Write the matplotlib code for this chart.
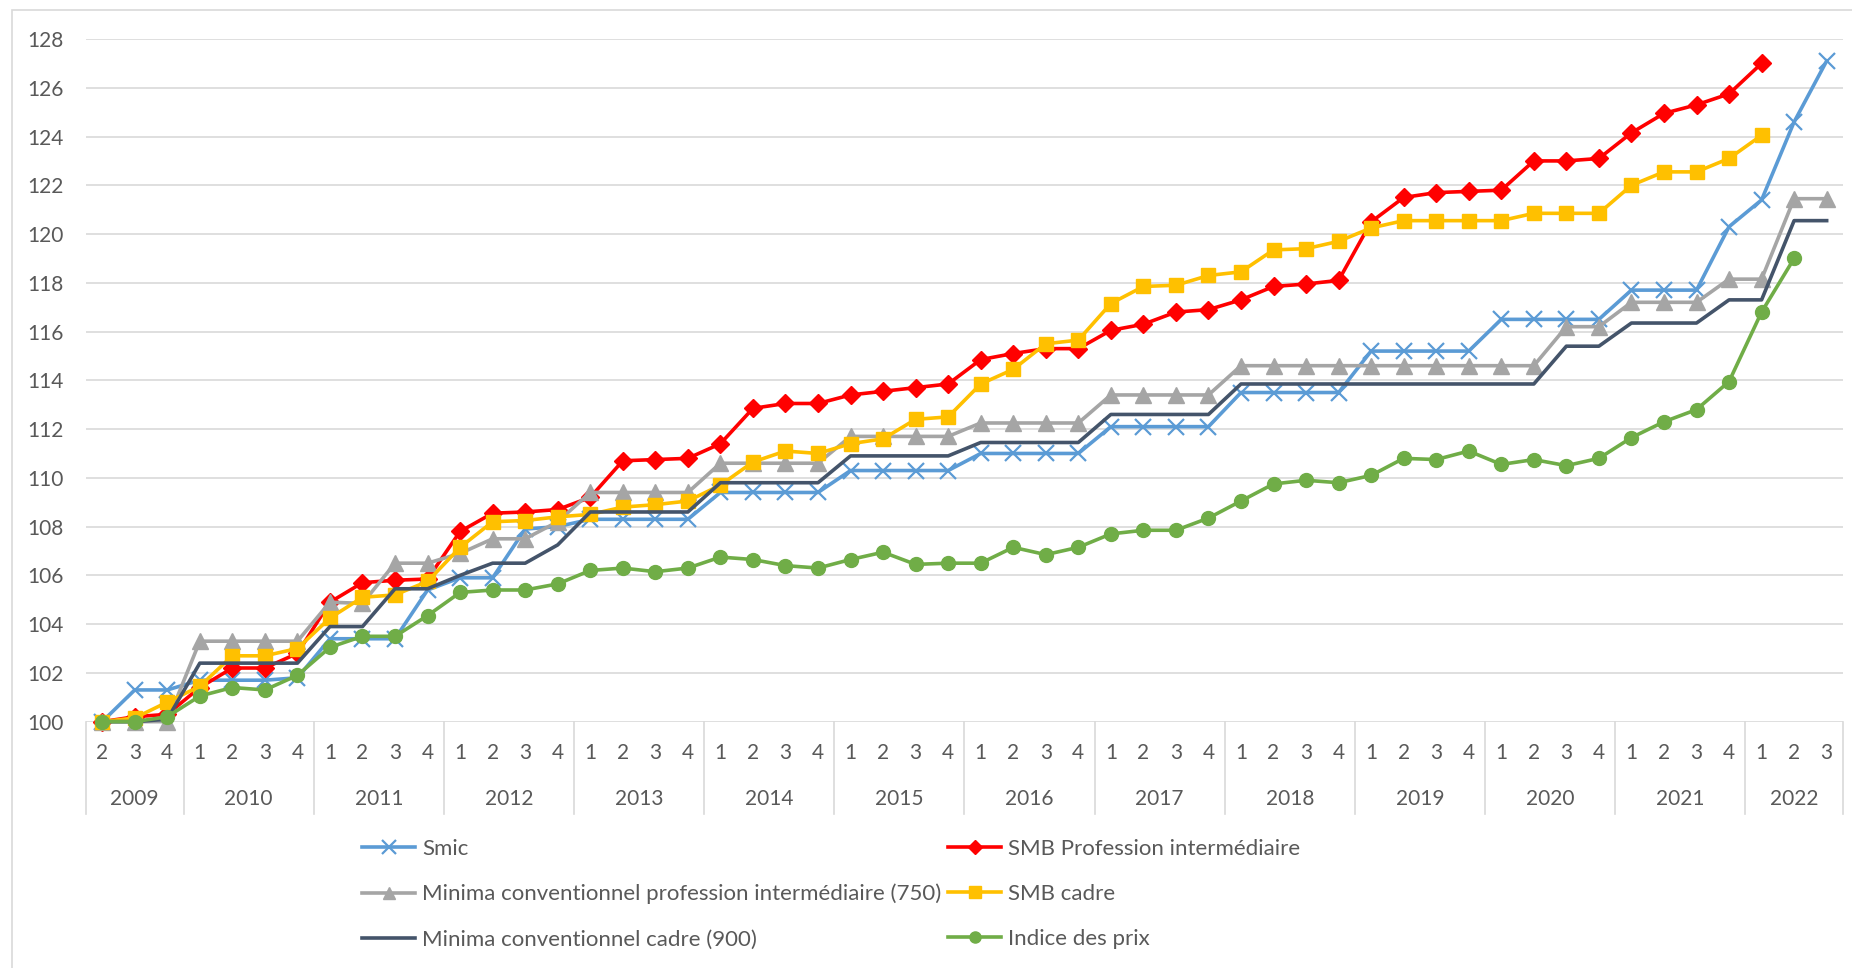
import numpy as np
import matplotlib.pyplot as plt
from matplotlib.patches import Rectangle
from matplotlib.transforms import blended_transform_factory

nan = np.nan

# quarters: 2009 Q2 .. 2022 Q3
years = list(range(2009, 2023))
quarters = [2, 3, 4] + [1, 2, 3, 4] * 12 + [1, 2, 3]
year_of_point = [2009] * 3 + [y for y in range(2010, 2022) for _ in range(4)] + [2022] * 3

smic = [100, 101.3, 101.3,
        101.7, 101.7, 101.7, 101.8,
        103.4, 103.4, 103.4, 105.4,
        105.9, 105.9, 107.9, 108.0,
        108.3, 108.3, 108.3, 108.3,
        109.4, 109.4, 109.4, 109.4,
        110.3, 110.3, 110.3, 110.3,
        111.0, 111.0, 111.0, 111.0,
        112.1, 112.1, 112.1, 112.1,
        113.5, 113.5, 113.5, 113.5,
        115.2, 115.2, 115.2, 115.2,
        116.5, 116.5, 116.5, 116.5,
        117.7, 117.7, 117.7, 120.3,
        121.4, 124.6, 127.1]

smb_pi = [100, 100.2, 100.3,
          101.4, 102.2, 102.2, 102.8,
          104.9, 105.7, 105.8, 105.85,
          107.8, 108.55, 108.6, 108.7,
          109.2, 110.7, 110.75, 110.8,
          111.4, 112.85, 113.05, 113.05,
          113.4, 113.55, 113.7, 113.85,
          114.85, 115.1, 115.3, 115.3,
          116.05, 116.3, 116.8, 116.9,
          117.3, 117.85, 117.95, 118.1,
          120.5, 121.5, 121.7, 121.75,
          121.8, 123.0, 123.0, 123.1,
          124.15, 124.95, 125.3, 125.75,
          127.0, nan, nan]

minima_pi = [100, 100, 100,
             103.3, 103.3, 103.3, 103.3,
             104.9, 104.85, 106.5, 106.5,
             106.9, 107.5, 107.5, 108.2,
             109.4, 109.4, 109.4, 109.4,
             110.6, 110.6, 110.6, 110.6,
             111.7, 111.7, 111.7, 111.7,
             112.25, 112.25, 112.25, 112.25,
             113.4, 113.4, 113.4, 113.4,
             114.6, 114.6, 114.6, 114.6,
             114.6, 114.6, 114.6, 114.6,
             114.6, 114.6, 116.2, 116.2,
             117.2, 117.2, 117.2, 118.15,
             118.15, 121.45, 121.45]

smb_cadre = [100, 100.15, 100.8,
             101.45, 102.7, 102.7, 103.0,
             104.25, 105.1, 105.2, 105.75,
             107.15, 108.2, 108.25, 108.4,
             108.5, 108.8, 108.9, 109.05,
             109.7, 110.65, 111.1, 111.0,
             111.4, 111.6, 112.4, 112.5,
             113.85, 114.45, 115.5, 115.65,
             117.15, 117.85, 117.9, 118.3,
             118.45, 119.35, 119.4, 119.7,
             120.25, 120.55, 120.55, 120.55,
             120.55, 120.85, 120.85, 120.85,
             122.0, 122.55, 122.55, 123.1,
             124.05, nan, nan]

minima_cadre = [100, 100, 100.1,
                102.4, 102.4, 102.4, 102.4,
                103.9, 103.9, 105.45, 105.45,
                106.0, 106.5, 106.5, 107.25,
                108.6, 108.6, 108.6, 108.6,
                109.8, 109.8, 109.8, 109.8,
                110.9, 110.9, 110.9, 110.9,
                111.45, 111.45, 111.45, 111.45,
                112.6, 112.6, 112.6, 112.6,
                113.85, 113.85, 113.85, 113.85,
                113.85, 113.85, 113.85, 113.85,
                113.85, 113.85, 115.4, 115.4,
                116.35, 116.35, 116.35, 117.3,
                117.3, 120.55, 120.55]

indice = [100, 100.0, 100.2,
          101.05, 101.4, 101.3, 101.9,
          103.05, 103.5, 103.5, 104.35,
          105.3, 105.4, 105.4, 105.65,
          106.2, 106.3, 106.15, 106.3,
          106.75, 106.65, 106.4, 106.3,
          106.65, 106.95, 106.45, 106.5,
          106.5, 107.15, 106.85, 107.15,
          107.7, 107.85, 107.85, 108.35,
          109.05, 109.75, 109.9, 109.8,
          110.1, 110.8, 110.75, 111.1,
          110.55, 110.75, 110.5, 110.8,
          111.65, 112.3, 112.8, 113.95,
          116.8, 119.0, nan]

labels = ["Smic",
          "SMB Profession intermédiaire",
          "Minima conventionnel profession intermédiaire (750)",
          "SMB cadre",
          "Minima conventionnel cadre (900)",
          "Indice des prix"]

plt.rcParams["font.family"] = ["Lato", "DejaVu Sans"]
TXT = "#595959"
GRID = "#D9D9D9"

fig = plt.figure(figsize=(18.52, 9.68), dpi=100)
ax = fig.add_axes([0.0464, 0.2545, 0.9487, 0.7052])

# outer chart frame
fig.patches.append(Rectangle((0.0065, -0.02), 1.0, 1.01, transform=fig.transFigure,
                             fill=False, edgecolor=GRID, linewidth=1.2))

x = np.arange(len(quarters))

styles = [
    dict(color="#5B9BD5", marker="x", ms=12, mew=1.6),
    dict(color="#FF0000", marker="D", ms=9),
    dict(color="#A5A5A5", marker="^", ms=11),
    dict(color="#FFC000", marker="s", ms=10),
    dict(color="#44546A", marker=None),
    dict(color="#70AD47", marker="o", ms=10),
]
series = [smic, smb_pi, minima_pi, smb_cadre, minima_cadre, indice]

handles = []
for vals, lab, st in zip(series, labels, styles):
    (ln,) = ax.plot(x, vals, lw=2.6, label=lab, clip_on=False, **st)
    handles.append(ln)

ax.set_xlim(-0.5, len(quarters) - 0.5)
ax.set_ylim(100, 128)
ax.set_yticks(np.arange(100, 129, 2))
ax.yaxis.grid(True, color=GRID, lw=1.2)
ax.set_axisbelow(True)
for s in ax.spines.values():
    s.set_visible(False)
ax.tick_params(axis="y", length=0, pad=16, labelsize=15, labelcolor=TXT)
ax.set_xticks([])

# multi-level category axis
trans = blended_transform_factory(ax.transData, ax.transAxes)
for xi, q in zip(x, quarters):
    ax.text(xi, -0.0454, str(q), transform=trans, ha="center", va="center",
            fontsize=15, color=TXT)
yarr = np.array(year_of_point)
for yr in years:
    idx = x[yarr == yr]
    ax.text(idx.mean(), -0.1137, str(yr), transform=trans, ha="center", va="center",
            fontsize=15, color=TXT)
bounds = [-0.5] + [x[yarr == yr].max() + 0.5 for yr in years]
for b in bounds:
    ax.plot([b, b], [0, -0.135], transform=trans, color=GRID, lw=1.2, clip_on=False)

# legend, Excel row order -> matplotlib column order
order = [0, 2, 4, 1, 3, 5]
fig.legend([handles[i] for i in order], [labels[i] for i in order],
           ncol=2, loc="center left", bbox_to_anchor=(0.1955, 0.0764),
           frameon=False, fontsize=16, labelcolor=TXT, handlelength=2.4,
           handletextpad=0.3, columnspacing=0.3, labelspacing=1.13, borderpad=0,
           borderaxespad=0, markerscale=0.8)

fig.savefig("out.png", dpi=100)
